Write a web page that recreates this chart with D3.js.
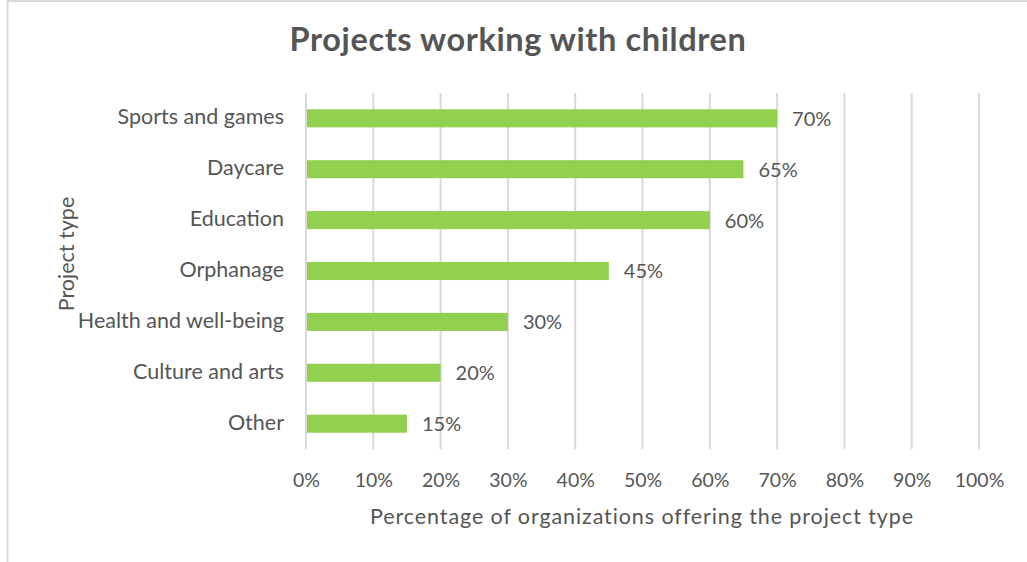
<!DOCTYPE html>
<html>
<head>
<meta charset="utf-8">
<script src="https://cdn.jsdelivr.net/npm/d3@7"></script>
<style>
  html, body { margin: 0; padding: 0; background: #fff; }
  svg { display: block; }
  text { font-family: Lato, "Open Sans", sans-serif; fill: #555555; }
</style>
</head>
<body>
<script>
// Project types and the share of organizations offering each one
const categories = ["Sports and games", "Daycare", "Education", "Orphanage", "Health and well-being", "Culture and arts", "Other"];
const values = [0.70, 0.65, 0.60, 0.45, 0.30, 0.20, 0.15];
const tickValues = [0, 0.1, 0.2, 0.3, 0.4, 0.5, 0.6, 0.7, 0.8, 0.9, 1.0];

const W = 1027, H = 562;
const margin = { left: 306, right: 48, top: 93, bottom: 113 };
const FONT = "Lato, 'Open Sans', sans-serif";
const TEXT = "#555555";

const svg = d3.select("body").append("svg").attr("width", W).attr("height", H);

// outer chart frame (top and left edges)
svg.append("line").attr("x1", 7.5).attr("x2", W).attr("y1", 1).attr("y2", 1)
  .attr("stroke", "#d9d9d9").attr("stroke-width", 2);
svg.append("line").attr("x1", 7.5).attr("x2", 7.5).attr("y1", 0).attr("y2", H)
  .attr("stroke", "#d9d9d9").attr("stroke-width", 2);

const x = d3.scaleLinear().domain([0, 1]).range([margin.left, W - margin.right]);
const y = d3.scaleBand().domain(categories).range([margin.top, H - margin.bottom]).paddingInner(0.645).paddingOuter(0.32);

// vertical gridlines
svg.append("g").selectAll("line").data(tickValues).join("line")
  .attr("x1", d => x(d)).attr("x2", d => x(d))
  .attr("y1", margin.top).attr("y2", H - margin.bottom)
  .attr("stroke", "#d9d9d9").attr("stroke-width", 2);

// x axis tick labels
const xAxis = d3.axisBottom(x).tickValues(tickValues).tickFormat(d3.format(".0%")).tickSize(0).tickPadding(0);
const gx = svg.append("g").attr("transform", `translate(0,${H - margin.bottom + 24})`).call(xAxis);
gx.select(".domain").remove();
gx.selectAll("text").attr("font-size", 19.5).attr("font-family", FONT).attr("fill", TEXT);

// y axis category labels
const yAxis = d3.axisLeft(y).tickSize(0).tickPadding(22);
const gy = svg.append("g").attr("transform", `translate(${margin.left},0)`).call(yAxis);
gy.select(".domain").remove();
gy.selectAll("text").attr("font-size", 21.5).attr("font-family", FONT).attr("fill", TEXT).attr("dy", "0.28em");

// bars
svg.append("g").selectAll("rect").data(categories).join("rect")
  .attr("x", x(0) + 1)
  .attr("y", d => y(d))
  .attr("width", (d, i) => x(values[i]) - x(0) - 1)
  .attr("height", y.bandwidth())
  .attr("fill", "#92d050");

// value labels
svg.append("g").selectAll("text").data(categories).join("text")
  .attr("x", (d, i) => x(values[i]) + 15)
  .attr("y", d => y(d) + y.bandwidth() / 2)
  .attr("dy", "0.37em")
  .attr("font-size", 20)
  .text((d, i) => d3.format(".0%")(values[i]));

// title
svg.append("text").attr("x", 518).attr("y", 51).attr("text-anchor", "middle")
  .attr("font-size", 32.5).attr("font-weight", "bold").attr("letter-spacing", 0.6)
  .text("Projects working with children");

// axis titles
svg.append("text").attr("x", 642).attr("y", 524).attr("text-anchor", "middle")
  .attr("font-size", 21.5).attr("letter-spacing", 0.9)
  .text("Percentage of organizations offering the project type");
svg.append("text").attr("transform", "translate(74,254) rotate(-90)").attr("text-anchor", "middle")
  .attr("font-size", 21.5)
  .text("Project type");
</script>
</body>
</html>
